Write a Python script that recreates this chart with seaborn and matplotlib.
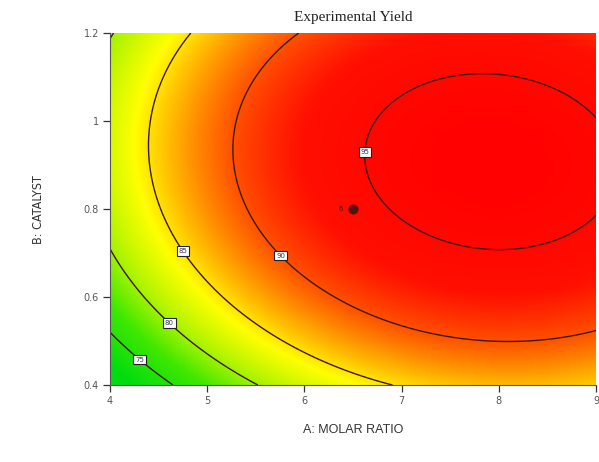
import numpy as np
import matplotlib
matplotlib.use("Agg")
import matplotlib.pyplot as plt
import seaborn as sns
from matplotlib.colors import LinearSegmentedColormap, Normalize

# ---- data (points on the contour lines) ----
A_pts = [6.55, 7.81, 7.80, 8.97, 8.97, 5.26, 8.00, 5.94, 5.76, 8.97,
         4.41, 4.85, 6.89, 4.77, 4.00, 5.50, 4.63, 4.00, 4.00, 4.63, 4.33]
B_pts = [0.93, 0.707, 1.105, 1.02, 0.79, 0.93, 0.496, 1.20, 0.695, 0.525,
         0.93, 1.20, 0.40, 0.707, 0.695, 0.40, 0.545, 1.19, 0.51, 0.40, 0.465]
Y_pts = [95, 95, 95, 95, 95, 90, 90, 90, 90, 90,
         85, 85, 85, 85, 80, 80, 80, 80, 75, 75, 75]
levels = [75, 80, 85, 90, 95]
label_pos = [(4.33, 0.465), (4.63, 0.545), (4.77, 0.707), (5.76, 0.695), (6.55, 0.93)]
design_A = [6.5]
design_B = [0.8]
x_ticks = [4, 5, 6, 7, 8, 9]
y_ticks = [0.4, 0.6, 0.8, 1.0, 1.2]
y_ticklabels = ["0.4", "0.6", "0.8", "1", "1.2"]

# ---- quadratic response-surface fit to the read points ----
A = np.array(A_pts); B = np.array(B_pts); Y = np.array(Y_pts, float)
X = np.column_stack([np.ones_like(A), A, B, A * B, A**2, B**2])
coef, *_ = np.linalg.lstsq(X, Y, rcond=None)

ga = np.linspace(4, 9, 400)
gb = np.linspace(0.4, 1.2, 300)
GA, GB = np.meshgrid(ga, gb)
Z = (coef[0] + coef[1] * GA + coef[2] * GB + coef[3] * GA * GB
     + coef[4] * GA**2 + coef[5] * GB**2)

sns.set_theme(style="white")
plt.rcParams["font.family"] = ["DejaVu Sans"]

fig = plt.figure(figsize=(5.99, 4.62), dpi=100)
ax = fig.add_axes([110 / 599, 77 / 462, (596 - 110) / 599, (385 - 33) / 462])

vmin, vmax = 72.0, 97.0
def pos(v):
    return (v - vmin) / (vmax - vmin)
cmap = LinearSegmentedColormap.from_list(
    "de",
    [(0.0, "#00dc10"), (pos(77), "#40e800"), (pos(80.5), "#b0f400"),
     (pos(84), "#ffff00"), (pos(87), "#ffa800"), (pos(90), "#ff5000"),
     (pos(93), "#ff1000"), (1.0, "#ff0000")])
norm = Normalize(vmin=vmin, vmax=vmax)
ax.imshow(Z, extent=[4, 9, 0.4, 1.2], origin="lower", aspect="auto",
          cmap=cmap, norm=norm, interpolation="bilinear")
cs = ax.contour(GA, GB, Z, levels=levels, colors="#3a1a10", linewidths=1.0)
labs = ax.clabel(cs, fmt="%d", fontsize=5, manual=label_pos, inline=False,
                 colors="#333366")
for t in labs:
    t.set_rotation(0)
    t.set_bbox(dict(boxstyle="square,pad=0.25", fc="white", ec="#222222", lw=0.8))

sns.scatterplot(x=design_A, y=design_B, ax=ax, s=45, color="#551010",
                edgecolor="#551010", marker="o", zorder=5, legend=False)
ax.text(design_A[0] - 0.1, design_B[0], "6", fontsize=5, color="#551010",
        ha="right", va="center")

ax.set_xlim(4, 9)
ax.set_ylim(0.4, 1.2)
ax.set_xticks(x_ticks)
ax.set_xticklabels([str(v) for v in x_ticks])
ax.set_yticks(y_ticks)
ax.set_yticklabels(y_ticklabels)
ax.tick_params(axis="both", direction="out", length=5, width=0.9, color="#333333",
               labelsize=7, labelcolor="#555555", bottom=True, left=True, pad=3)
for side in ["top", "right"]:
    ax.spines[side].set_visible(False)
for side in ["left", "bottom"]:
    ax.spines[side].set_color("#555555")
    ax.spines[side].set_linewidth(0.8)

fig.text(353 / 599, 1 - 18 / 462, "Experimental Yield", ha="center", va="center",
         fontsize=11, family="Liberation Serif", color="#222222")
fig.text(353 / 599, 1 - 430 / 462, "A: MOLAR RATIO", ha="center", va="center",
         fontsize=9, family="Liberation Sans", color="#333333")
fig.text(38 / 599, 1 - 210 / 462, "B: CATALYST", ha="center", va="center",
         rotation=90, fontsize=9, family="DejaVu Sans", fontstretch="condensed",
         color="#333333")

fig.savefig("out.png", dpi=100)
